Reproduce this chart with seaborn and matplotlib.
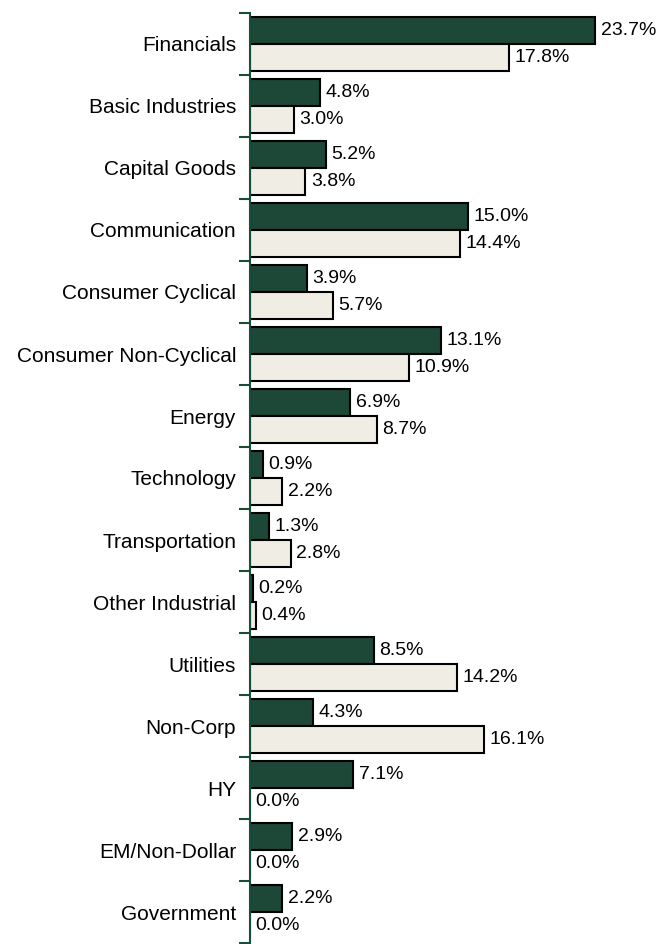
import matplotlib
matplotlib.use("Agg")
import matplotlib.pyplot as plt
import seaborn as sns
import numpy as np
import pandas as pd

sectors = ['Financials', 'Basic Industries', 'Capital Goods', 'Communication',
           'Consumer Cyclical', 'Consumer Non-Cyclical', 'Energy', 'Technology',
           'Transportation', 'Other Industrial', 'Utilities', 'Non-Corp', 'HY',
           'EM/Non-Dollar', 'Government']
portfolio = [23.7, 4.8, 5.2, 15.0, 3.9, 13.1, 6.9, 0.9, 1.3, 0.2, 8.5, 4.3, 7.1, 2.9, 2.2]
benchmark = [17.8, 3.0, 3.8, 14.4, 5.7, 10.9, 8.7, 2.2, 2.8, 0.4, 14.2, 16.1, 0.0, 0.0, 0.0]
series = ['Portfolio', 'Benchmark']

df = pd.DataFrame({
    'sector': sectors * 2,
    'value': portfolio + benchmark,
    'series': [series[0]] * len(sectors) + [series[1]] * len(sectors),
})

green = '#164e39'
cream = '#f2eee3'

sns.set_style('white')
plt.rcParams['font.family'] = ['Liberation Sans', 'DejaVu Sans']
plt.rcParams['text.color'] = 'black'

fig = plt.figure(figsize=(6.62, 9.44), dpi=100)
ax = fig.add_axes([250 / 662, 1 / 944, 1 - 250 / 662, 930 / 944])

sns.barplot(data=df, y='sector', x='value', hue='series', orient='h',
            palette=[green, cream], width=0.87, edgecolor='black',
            linewidth=1.5, legend=False, ax=ax)

for cont in ax.containers:
    ax.bar_label(cont, fmt='%.1f%%', padding=4, fontsize=14, color='black')

ax.set_xlim(0, 28.3)
ax.set_ylim(len(sectors) - 0.5, -0.5)
for s in ['top', 'right', 'bottom']:
    ax.spines[s].set_visible(False)
ax.spines['left'].set_color(green)
ax.spines['left'].set_linewidth(1.5)
ax.set_xticks([])
ax.set_xlabel('')
ax.set_ylabel('')
ax.set_yticks(np.arange(len(sectors)))
ax.set_yticklabels(sectors, fontsize=15, color='black')
ax.set_yticks(np.arange(len(sectors) + 1) - 0.5, minor=True)
ax.tick_params(axis='y', which='major', length=0, pad=10)
ax.tick_params(axis='y', which='minor', length=8, width=1.5, color=green, left=True)

fig.savefig('out.png', dpi=100)
